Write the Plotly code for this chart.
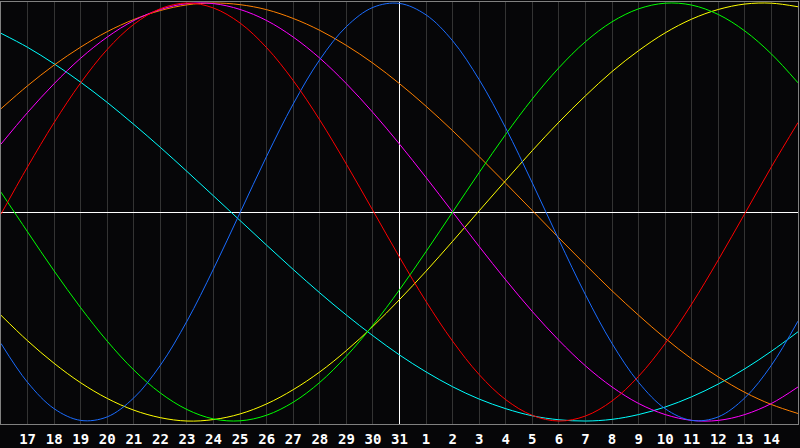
import plotly.graph_objects as go

# Day offsets relative to the centre day (31) and their calendar labels
day_offset = [-15, -14, -13, -12, -11, -10, -9, -8, -7, -6, -5, -4, -3, -2, -1,
              0, 1, 2, 3, 4, 5, 6, 7, 8, 9, 10, 11, 12, 13, 14, 15]
day_label = ["16", "17", "18", "19", "20", "21", "22", "23", "24", "25", "26",
             "27", "28", "29", "30", "31", "1", "2", "3", "4", "5", "6", "7",
             "8", "9", "10", "11", "12", "13", "14", "15"]

# Cycle values (one value per day)
red = [-0.01, 0.216, 0.428, 0.618, 0.778, 0.898, 0.973, 1.0, 0.976, 0.904, 0.786,
       0.629, 0.44, 0.229, 0.007, -0.216, -0.428, -0.618, -0.778, -0.898, -0.973,
       -1.0, -0.976, -0.904, -0.786, -0.629, -0.44, -0.229, -0.007, 0.216, 0.428]
blue = [-0.629, -0.815, -0.941, -0.997, -0.98, -0.889, -0.733, -0.522, -0.272,
        -0.003, 0.267, 0.517, 0.729, 0.887, 0.979, 0.998, 0.943, 0.819, 0.633,
        0.401, 0.139, -0.133, -0.396, -0.629, -0.815, -0.941, -0.997, -0.98,
        -0.889, -0.733, -0.522]
green = [0.095, -0.095, -0.282, -0.458, -0.618, -0.756, -0.866, -0.945, -0.99,
         -0.999, -0.972, -0.91, -0.815, -0.69, -0.541, -0.372, -0.189, 0.0, 0.189,
         0.372, 0.541, 0.69, 0.815, 0.91, 0.972, 0.999, 0.99, 0.945, 0.866, 0.756,
         0.618]
yellow = [-0.494, -0.616, -0.724, -0.817, -0.892, -0.948, -0.984, -1.0, -0.993,
          -0.966, -0.918, -0.85, -0.765, -0.663, -0.547, -0.419, -0.283, -0.14,
          0.006, 0.151, 0.294, 0.43, 0.556, 0.672, 0.772, 0.857, 0.923, 0.969,
          0.995, 0.999, 0.982]
cyan = [0.855, 0.788, 0.709, 0.621, 0.524, 0.419, 0.309, 0.194, 0.077, -0.041,
        -0.159, -0.275, -0.387, -0.493, -0.592, -0.684, -0.765, -0.836, -0.895,
        -0.941, -0.975, -0.994, -1.0, -0.992, -0.969, -0.933, -0.884, -0.823,
        -0.75, -0.666, -0.573]
orange = [0.494, 0.604, 0.703, 0.789, 0.863, 0.921, 0.964, 0.991, 1.0, 0.992,
          0.968, 0.926, 0.869, 0.797, 0.712, 0.614, 0.506, 0.389, 0.265, 0.137,
          0.007, -0.124, -0.252, -0.377, -0.494, -0.604, -0.703, -0.789, -0.863,
          -0.921, -0.964]
magenta = [0.325, 0.476, 0.614, 0.736, 0.837, 0.916, 0.969, 0.997, 0.997, 0.969,
           0.916, 0.837, 0.736, 0.614, 0.476, 0.325, 0.165, 0.0, -0.165, -0.325,
           -0.476, -0.614, -0.736, -0.837, -0.916, -0.969, -0.997, -0.997, -0.969,
           -0.916, -0.837]

series = [
    ("cyan", cyan, "#00ffff"),
    ("orange", orange, "#ff8000"),
    ("yellow", yellow, "#ffff00"),
    ("magenta", magenta, "#ff00ff"),
    ("green", green, "#00ff00"),
    ("blue", blue, "#1a6cff"),
    ("red", red, "#ff0000"),
]

fig = go.Figure()
for name, vals, col in series:
    fig.add_trace(go.Scatter(
        x=day_offset, y=vals, mode="lines", name=name,
        line=dict(color=col, width=1, shape="spline", smoothing=1.0),
        hoverinfo="skip",
    ))

bg = "#060608"
fig.update_layout(
    width=800, height=448,
    margin=dict(l=1, r=1, t=1, b=21, pad=0),
    paper_bgcolor=bg, plot_bgcolor=bg,
    showlegend=False,
)
fig.update_xaxes(
    range=[-15, 15],
    tickmode="array", tickvals=day_offset[1:-1], ticktext=day_label[1:-1],
    showgrid=True, gridcolor="#333333", gridwidth=1,
    zeroline=True, zerolinecolor="#ffffff", zerolinewidth=1,
    showline=True, linecolor="#808080", linewidth=1, mirror=True,
    ticks="", ticklabelstandoff=2,
    tickfont=dict(family="DejaVu Sans Mono", size=14, color="#ffffff", weight="bold"),
    fixedrange=True,
)
fig.update_yaxes(
    range=[-1.01422, 1.00474],
    showgrid=False, showticklabels=False,
    zeroline=True, zerolinecolor="#ffffff", zerolinewidth=1,
    showline=True, linecolor="#808080", linewidth=1, mirror=True,
    ticks="", fixedrange=True,
)

fig.write_html(
    "out.html",
    config={"displayModeBar": False},
    post_script="document.body.style.margin='0';document.body.style.background='#060608';",
)
